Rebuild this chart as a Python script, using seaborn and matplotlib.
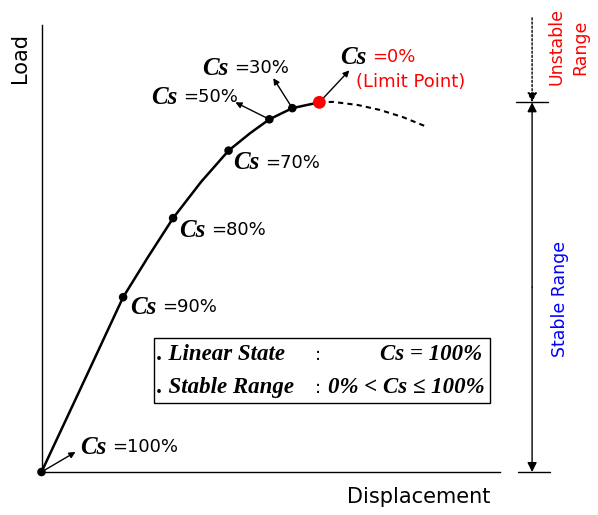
import numpy as np
import pandas as pd
import matplotlib
matplotlib.use('Agg')
import matplotlib.pyplot as plt
from matplotlib.patches import Rectangle
import seaborn as sns

# load-displacement path (arbitrary units)
disp = [0.0, 0.94, 1.78, 2.33, 2.87, 3.48, 4.08, 4.55, 4.97, 5.47, 6.06]
load = [0.0, 2.06, 3.91, 4.82, 5.68, 6.49, 7.19, 7.58, 7.89, 8.14, 8.27]
# post-limit (unstable) branch, dashed
disp_post = [6.06, 6.36, 6.90, 7.38, 7.88, 8.36]
load_post = [8.27, 8.28, 8.21, 8.10, 7.94, 7.74]

# stability index at marked points
cs_values = [100, 90, 80, 70, 50, 30, 0]
cs_index = [0, 2, 4, 6, 8, 9, 10]

# label placement, px (right, up) from the point; arrow tip offsets
label_off = {100: (39, 25), 90: (7, -10), 80: (6, -12), 70: (5, -12),
             50: (-118, 22), 30: (-90, 40), 0: (21, 45)}
arrow_off = {100: (34, 20), 50: (-34, 17), 30: (-19, 30), 0: (30, 32)}

PT = 0.72  # px -> pt at dpi 100
RED, BLUE = '#ff0000', '#0000ff'
SANS = ['DejaVu Sans']
SERIF = ['Liberation Serif', 'DejaVu Serif']

sns.set_style('white')
plt.rcParams['font.family'] = SANS
plt.rcParams['text.color'] = 'black'

fig = plt.figure(figsize=(5.98, 5.15), dpi=100)
ax = fig.add_axes([41.5 / 598, 43 / 515, 458.5 / 598, 447 / 515])
ax.set_xlim(0, 10); ax.set_ylim(0, 10)
for s in ['top', 'right']:
    ax.spines[s].set_visible(False)
for s in ['left', 'bottom']:
    ax.spines[s].set_linewidth(1.0); ax.spines[s].set_color('black')
ax.set_xticks([]); ax.set_yticks([])

df = pd.DataFrame({'disp': disp, 'load': load})
sns.lineplot(data=df, x='disp', y='load', sort=False, estimator=None,
             color='black', lw=1.8, ax=ax)
sns.lineplot(x=disp_post, y=load_post, sort=False, estimator=None,
             color='black', lw=1.5, ax=ax, linestyle=(0, (2.5, 2)))
ax.set_xlabel(''); ax.set_ylabel('')

pts = pd.DataFrame({'cs': cs_values,
                    'x': [disp[i] for i in cs_index],
                    'y': [load[i] for i in cs_index]})
black = pts[pts.cs > 0]
sns.scatterplot(data=black, x='x', y='y', color='black', s=38, ax=ax,
                edgecolor='none', zorder=5, clip_on=False)
lim = pts[pts.cs == 0]
sns.scatterplot(data=lim, x='x', y='y', color=RED, s=85, ax=ax,
                edgecolor='none', zorder=6, clip_on=False)
ax.set_xlabel(''); ax.set_ylabel('')

for cs, x, y in zip(pts.cs, pts.x, pts.y):
    ox, oy = label_off[cs]
    ax.annotate('Cs', xy=(x, y), xytext=(ox * PT, oy * PT), textcoords='offset points',
                ha='left', va='center', fontsize=18, family=SERIF,
                fontweight='bold', fontstyle='italic')
    ax.annotate('=%d%%' % cs, xy=(x, y), xytext=((ox + 32) * PT, oy * PT),
                textcoords='offset points', ha='left', va='center', fontsize=13,
                color=RED if cs == 0 else 'black')
    if cs in arrow_off:
        ax_, ay_ = arrow_off[cs]
        ax.annotate('', xy=(x, y), xytext=(ax_ * PT, ay_ * PT), textcoords='offset points',
                    arrowprops=dict(arrowstyle='<|-', color='black', lw=1.0,
                                    mutation_scale=9, shrinkA=0, shrinkB=3))
    if cs == 0:
        ax.annotate('(Limit Point)', xy=(x, y), xytext=((ox + 16) * PT, (oy - 25) * PT),
                    textcoords='offset points', ha='left', va='center',
                    fontsize=13, color=RED)

# summary box
ax.add_patch(Rectangle((2.45, 1.54), 7.33, 1.46, fill=False, ec='black', lw=1.0, clip_on=False))
bi = dict(family=SERIF, fontweight='bold', fontstyle='italic', fontsize=16.5, va='center')
ax.text(2.52, 2.62, '. Linear State', ha='left', **bi)
ax.text(6.03, 2.62, ':', ha='center', fontsize=13, va='center')
ax.text(9.62, 2.62, 'Cs = 100%', ha='right', **bi)
ax.text(2.52, 1.88, '. Stable Range', ha='left', **bi)
ax.text(6.03, 1.88, ':', ha='center', fontsize=13, va='center')
ax.text(9.66, 1.88, '0% < Cs \u2264 100%', ha='right', **bi)

# stability range arrows on the right
xr = 10.70
ypk = max(load)
arw = dict(arrowstyle='-|>', color='black', lw=1.0, mutation_scale=14, shrinkA=0, shrinkB=0)
ax.annotate('', xy=(xr, ypk), xytext=(xr, 10.16), annotation_clip=False,
            arrowprops=dict(arw, linestyle=(0, (1.5, 1.5))))
ax.annotate('', xy=(xr, ypk), xytext=(xr, ypk / 2), annotation_clip=False, arrowprops=arw)
ax.annotate('', xy=(xr, 0), xytext=(xr, ypk / 2), annotation_clip=False, arrowprops=arw)
ax.plot([10.35, 11.05], [ypk, ypk], color='black', lw=1.0, clip_on=False)
ax.plot([10.39, 11.09], [0, 0], color='black', lw=1.0, clip_on=False)

ax.text(11.31, 3.87, 'Stable Range', rotation=90, ha='center', va='center',
        fontsize=12.5, color=BLUE)
ax.text(11.5, 9.51, 'Unstable\nRange', rotation=90, ha='center', va='center',
        fontsize=12.5, color=RED, multialignment='center', linespacing=1.4)

# axis titles
fig.text(490 / 598, 1 - 497 / 515, 'Displacement', ha='right', va='center', fontsize=15)
fig.text(20 / 598, 1 - 58 / 515, 'Load', ha='center', va='center', rotation=90, fontsize=15)

fig.savefig('out.png', dpi=100)
